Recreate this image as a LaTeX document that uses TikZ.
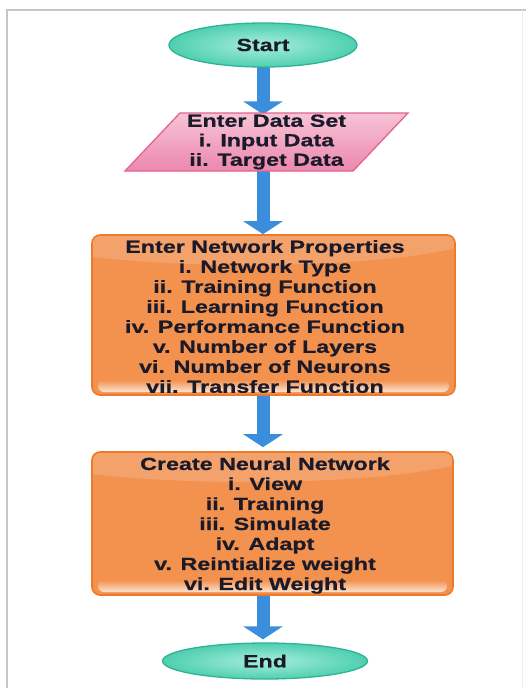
\documentclass[tikz,border=0pt]{standalone}
\usepackage{fontspec}
\newfontfamily\lab{Liberation Sans}[FakeStretch=1.33, BoldFeatures={FakeBold=0.7}]
\usetikzlibrary{shapes.geometric,arrows.meta,calc,backgrounds}

\definecolor{ink}{HTML}{1A1A28}
\definecolor{framegray}{HTML}{C6C6C6}
\definecolor{framelight}{HTML}{ECECEC}
\definecolor{arrowblue}{HTML}{3A8EDB}
\definecolor{tealedge}{HTML}{2FB394}
\definecolor{tealhi}{HTML}{A8EEDC}
\definecolor{tealmid}{HTML}{4FCFB0}
\definecolor{pinkedge}{HTML}{E2638F}
\definecolor{pinktop}{HTML}{F7C3D6}
\definecolor{pinkbot}{HTML}{EC88AE}
\definecolor{orangeedge}{HTML}{EB7A2C}
\definecolor{orangefill}{HTML}{F3914F}
\definecolor{orangelight}{HTML}{FCE3D0}

\tikzset{
  labelfont/.style={font=\lab\bfseries\fontsize{17.5}{20}\selectfont, text=ink},
  terminal/.style={ellipse, draw=tealedge, line width=1.3pt, inner sep=0pt,
    shade, inner color=tealhi, outer color=tealmid, labelfont},
  iobox/.style={trapezium, trapezium left angle=45, trapezium right angle=135,
    trapezium stretches body, inner sep=0pt, draw=pinkedge, line width=1.3pt,
    top color=pinktop, bottom color=pinkbot, align=center, labelfont,
    font=\lab\bfseries\fontsize{17.5}{19.5}\selectfont},
  procbox/.style={rectangle, rounded corners=8pt, draw=orangeedge, line width=1.6pt,
    fill=orangefill,
    path picture={
      \fill[white, opacity=.16]
        ($(path picture bounding box.north)+(-25,-4)$) ellipse [x radius=240, y radius=34];
      \shade[rounded corners=6pt, top color=orangefill, bottom color=orangelight]
        ($(path picture bounding box.south west)+(6,-15)$) rectangle
        ($(path picture bounding box.south east)+(-6,-3)$);
    }},
  boxtext/.style={align=center, inner sep=0pt, labelfont},
  blockarrow/.style={draw=arrowblue, line width=13pt,
    -{Triangle[width=39pt,length=13pt]}},
}

\begin{document}
\begin{tikzpicture}[x=1pt, y=-1pt]
  \useasboundingbox (0,0) rectangle (526,688);

  % page frame
  \draw[framegray, line width=1.6pt] (7,688) -- (7,10) -- (526,10);
  \draw[framelight, line width=1pt] (522,10) -- (522,688);

  % flowchart shapes
  \node[terminal, minimum width=188pt, minimum height=44pt] (start) at (263,45) {Start};
  \node[iobox, minimum width=283pt, minimum height=58pt] (data) at (266.5,142)
    {Enter Data Set\\i. Input Data\\ii. Target Data};
  \node[procbox, minimum width=363pt, minimum height=160pt] (net) at (273.5,315) {};
  \node[boxtext] (netlist) at (265,316.5)
    {Enter Network Properties\\i. Network Type\\ii. Training Function\\
     iii. Learning Function\\iv. Performance Function\\v. Number of Layers\\
     vi. Number of Neurons\\vii. Transfer Function};
  \node[procbox, minimum width=361pt, minimum height=143pt] (create) at (272.5,523.5) {};
  \node[boxtext] (createlist) at (265,525.5)
    {Create Neural Network\\i. View\\ii. Training\\iii. Simulate\\iv. Adapt\\
     v. Reintialize weight\\vi. Edit Weight};
  \node[terminal, minimum width=205pt, minimum height=36pt] (finish) at (265,661) {End};

  % block arrows, tucked behind the shapes
  \begin{scope}[on background layer]
    \draw[blockarrow, shorten >=-2pt] (start.center) -- (start.center |- data.north);
    \draw[blockarrow] (start.center |- data.center) -- (start.center |- net.north);
    \draw[blockarrow, shorten >=4pt] (start.center |- net.center) -- (start.center |- create.north);
    \draw[blockarrow, shorten >=3pt] (start.center |- create.center) -- (start.center |- finish.north);
  \end{scope}
\end{tikzpicture}
\end{document}
